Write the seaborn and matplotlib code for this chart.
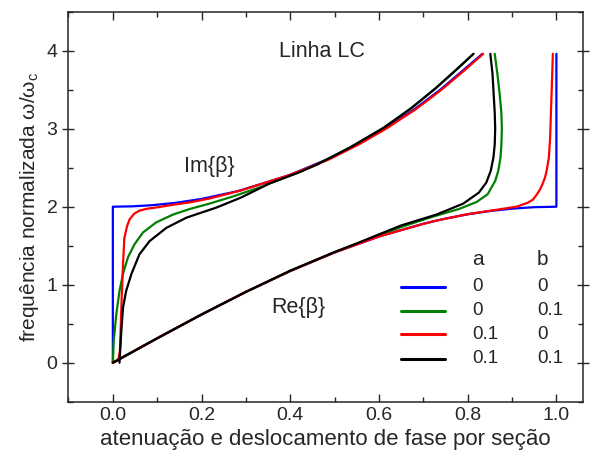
import matplotlib
matplotlib.use("Agg")
import matplotlib.pyplot as plt
import seaborn as sns
from matplotlib.ticker import MultipleLocator

# -----------------------------
# data (x = attenuation / phase per section, y = w/wc)
# -----------------------------
# a=0, b=0 (blue)
blue_re_x = [0, 0.1, 0.2, 0.3, 0.4, 0.5, 0.6, 0.7, 0.75, 0.8, 0.85, 0.9, 0.95, 1.0, 1.0]
blue_re_y = [0, 0.313, 0.618, 0.908, 1.176, 1.414, 1.618, 1.782, 1.848, 1.902, 1.945, 1.975, 1.994, 2.0, 3.96]
blue_im_x = [0, 0, 0.045, 0.09, 0.142, 0.20, 0.282, 0.396, 0.48, 0.552, 0.613, 0.68, 0.738, 0.79, 0.833]
blue_im_y = [0, 2.0, 2.005, 2.02, 2.05, 2.1, 2.2, 2.4, 2.6, 2.8, 3.0, 3.25, 3.5, 3.75, 3.96]

# a=0, b=0.1 (green)
green_re_x = [0, 0.1, 0.2, 0.3, 0.4, 0.5, 0.55, 0.6, 0.65, 0.72, 0.78, 0.82, 0.845, 0.862,
              0.869, 0.874, 0.876, 0.877, 0.876, 0.872, 0.867, 0.861]
green_re_y = [0, 0.313, 0.618, 0.908, 1.176, 1.414, 1.525, 1.63, 1.74, 1.87, 1.97, 2.06, 2.16, 2.33,
              2.46, 2.63, 2.8, 3.0, 3.2, 3.45, 3.7, 3.96]
green_im_x = [0, 0.002, 0.008, 0.015, 0.023, 0.034, 0.049, 0.068, 0.098, 0.136, 0.173, 0.218,
              0.27, 0.33, 0.40, 0.46, 0.535, 0.61, 0.672, 0.728, 0.775, 0.813]
green_im_y = [0, 0.28, 0.63, 0.92, 1.14, 1.35, 1.52, 1.67, 1.80, 1.90, 1.97, 2.04,
              2.13, 2.245, 2.40, 2.54, 2.76, 3.01, 3.26, 3.52, 3.76, 3.96]

# a=0.1, b=0 (red)
red_re_x = [0, 0.1, 0.2, 0.3, 0.4, 0.5, 0.6, 0.65, 0.72, 0.8, 0.87, 0.91, 0.935, 0.947, 0.955,
            0.962, 0.968, 0.974, 0.978, 0.983, 0.986, 0.988, 0.990, 0.992]
red_re_y = [0, 0.313, 0.618, 0.908, 1.176, 1.414, 1.618, 1.70, 1.81, 1.905, 1.965, 2.0, 2.05, 2.09, 2.15,
            2.21, 2.28, 2.37, 2.46, 2.63, 2.9, 3.27, 3.6, 3.96]
red_im_x = [0, 0.012, 0.016, 0.018, 0.020, 0.023, 0.026, 0.032, 0.038, 0.048, 0.060, 0.078, 0.098,
            0.13, 0.173, 0.218, 0.29, 0.40, 0.485, 0.555, 0.616, 0.683, 0.741, 0.793, 0.835]
red_im_y = [0, 0.03, 0.15, 0.5, 0.84, 1.27, 1.6, 1.75, 1.84, 1.91, 1.95, 1.975, 1.99,
            2.02, 2.055, 2.105, 2.21, 2.41, 2.6, 2.8, 3.0, 3.25, 3.5, 3.75, 3.96]

# a=0.1, b=0.1 (black)
black_re_x = [0, 0.1, 0.2, 0.3, 0.4, 0.5, 0.55, 0.6, 0.65, 0.73, 0.79, 0.825, 0.842, 0.852,
              0.858, 0.861, 0.862, 0.861, 0.859, 0.856, 0.851]
black_re_y = [0, 0.313, 0.618, 0.908, 1.18, 1.42, 1.53, 1.645, 1.76, 1.90, 2.04, 2.18, 2.31, 2.46,
              2.63, 2.8, 3.0, 3.2, 3.4, 3.7, 3.96]
black_im_x = [0.015, 0.016, 0.019, 0.023, 0.030, 0.042, 0.060, 0.083, 0.121, 0.166, 0.234, 0.29,
              0.354, 0.42, 0.46, 0.535, 0.61, 0.672, 0.728, 0.775, 0.813]
black_im_y = [0, 0.1, 0.4, 0.71, 0.92, 1.14, 1.39, 1.56, 1.73, 1.86, 1.99, 2.12,
              2.30, 2.44, 2.54, 2.76, 3.01, 3.26, 3.52, 3.76, 3.96]

legend_a = ['0', '0', '0.1', '0.1']
legend_b = ['0', '0.1', '0', '0.1']
colors = ['#0000ff', '#008000', '#ff0000', '#000000']

# -----------------------------
# style
# -----------------------------
sns.set_style('ticks')
plt.rcParams['font.family'] = ['Liberation Sans', 'DejaVu Sans']
plt.rcParams['mathtext.fontset'] = 'custom'
plt.rcParams['mathtext.rm'] = 'Liberation Sans'
plt.rcParams['mathtext.it'] = 'Liberation Sans'

fig = plt.figure(figsize=(5.94, 4.69), dpi=100)
ax = fig.add_axes([0.1153, 0.1435, 0.9815 - 0.1153, 0.975 - 0.1435])

curves = [
    (blue_re_x, blue_re_y, blue_im_x, blue_im_y),
    (green_re_x, green_re_y, green_im_x, green_im_y),
    (red_re_x, red_re_y, red_im_x, red_im_y),
    (black_re_x, black_re_y, black_im_x, black_im_y),
]
for (rx, ry, ix, iy), c in zip(curves, colors):
    sns.lineplot(x=rx, y=ry, sort=False, estimator=None, color=c, lw=1.6, ax=ax)
    sns.lineplot(x=ix, y=iy, sort=False, estimator=None, color=c, lw=1.6, ax=ax)

ax.set_xlim(-0.1, 1.06)
ax.set_ylim(-0.5, 4.5)
ax.xaxis.set_major_locator(MultipleLocator(0.2))
ax.xaxis.set_minor_locator(MultipleLocator(0.1))
ax.yaxis.set_major_locator(MultipleLocator(1))
ax.yaxis.set_minor_locator(MultipleLocator(0.5))
ax.tick_params(which='both', direction='in', top=True, right=True, width=1, labelsize=14)
ax.tick_params(which='major', length=6)
ax.tick_params(which='minor', length=3.5)
ax.tick_params(axis='y', which='major', direction='inout', length=9)
for s in ax.spines.values():
    s.set_linewidth(1.1)

ax.set_xlabel('atenuação e deslocamento de fase por seção', fontsize=16, labelpad=4)
ax.set_ylabel(r'frequência normalizada ω/ω$_{\mathrm{c}}$', fontsize=15, labelpad=4)

ax.text(0.4725, 3.985, 'Linha LC', fontsize=15.5, ha='center', va='center')
ax.text(0.218, 2.51, 'Im{β}', fontsize=15.5, ha='center', va='center')
ax.text(0.418, 0.705, 'Re{β}', fontsize=15.5, ha='center', va='center')

# hand-built legend with a / b columns
ax.text(0.81, 1.32, 'a', fontsize=15, ha='left', va='center')
ax.text(0.956, 1.32, 'b', fontsize=15, ha='left', va='center')
rows_y = [0.975, 0.668, 0.362, 0.051]
for c, la, lb, yy in zip(colors, legend_a, legend_b, rows_y):
    ax.plot([0.649, 0.749], [yy, yy], color=c, lw=2.2)
    ax.text(0.81, yy, la, fontsize=13.5, ha='left', va='center')
    ax.text(0.956, yy, lb, fontsize=13.5, ha='left', va='center')

fig.savefig('out.png', dpi=100)
